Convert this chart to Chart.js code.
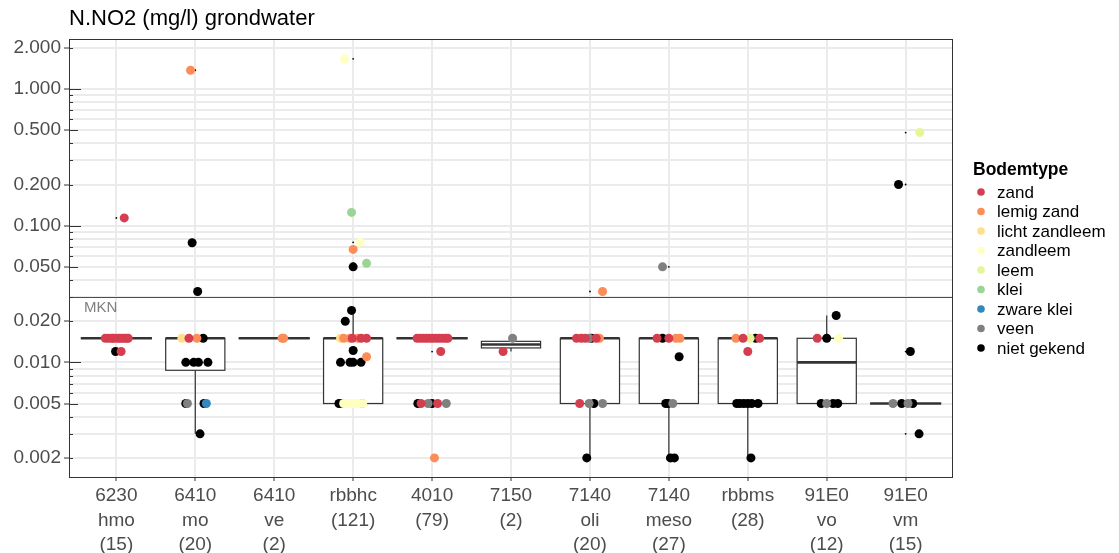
<!DOCTYPE html>
<html>
<head>
<meta charset="utf-8">
<script src="https://cdn.jsdelivr.net/npm/chart.js@4.4.0/dist/chart.umd.min.js"></script>
<style>
  html, body { margin: 0; padding: 0; background: #fff; }
  #wrap { width: 1119px; height: 553px; }
</style>
</head>
<body>
<div id="wrap"><canvas id="no2Chart" width="1119" height="553"></canvas></div>
<script>
// categorieën: habitattype + aantal metingen
const categories = [
  ['6230', 'hmo', '(15)'],
  ['6410', 'mo', '(20)'],
  ['6410', 've', '(2)'],
  ['rbbhc', '(121)'],
  ['4010', '(79)'],
  ['7150', '(2)'],
  ['7140', 'oli', '(20)'],
  ['7140', 'meso', '(27)'],
  ['rbbms', '(28)'],
  ['91E0', 'vo', '(12)'],
  ['91E0', 'vm', '(15)']
];

// boxplot-statistieken per categorie (mg/l)
const q1 = [0.015, 0.00875, 0.015, 0.005, 0.015, 0.01275, 0.005, 0.005, 0.005, 0.005, 0.005];
const median = [0.015, 0.015, 0.015, 0.015, 0.015, 0.0135, 0.015, 0.015, 0.015, 0.01, 0.005];
const q3 = [0.015, 0.015, 0.015, 0.015, 0.015, 0.01425, 0.015, 0.015, 0.015, 0.015, 0.005];
const whiskerLow = [0.015, 0.003, 0.015, 0.005, 0.015, 0.012, 0.002, 0.002, 0.002, 0.005, 0.005];
const whiskerHigh = [0.015, 0.015, 0.015, 0.024, 0.015, 0.015, 0.015, 0.015, 0.015, 0.022, 0.005];

const mkn = 0.03;
const yTickLabels = [0.002, 0.005, 0.01, 0.02, 0.05, 0.1, 0.2, 0.5, 1, 2];

// metingen per bodemtype: [categorie (1..11), waarde, jitter]
const zand = [
  [1, 0.015, -0.14], [1, 0.015, -0.10], [1, 0.015, -0.06], [1, 0.015, -0.03], [1, 0.015, 0.01],
  [1, 0.015, 0.04], [1, 0.015, 0.07], [1, 0.015, 0.10], [1, 0.015, 0.13], [1, 0.015, 0.15],
  [1, 0.012, 0.06], [1, 0.114, 0.10],
  [2, 0.015, -0.08],
  [4, 0.015, -0.01], [4, 0.015, 0.10], [4, 0.015, 0.17],
  [5, 0.015, -0.19], [5, 0.015, -0.15], [5, 0.015, -0.11], [5, 0.015, -0.07], [5, 0.015, -0.03],
  [5, 0.015, 0.01], [5, 0.015, 0.05], [5, 0.015, 0.09], [5, 0.015, 0.13], [5, 0.015, 0.17],
  [5, 0.015, 0.20], [5, 0.012, 0.11], [5, 0.005, -0.14], [5, 0.005, 0.07],
  [6, 0.012, -0.10],
  [7, 0.015, -0.17], [7, 0.015, -0.11], [7, 0.015, -0.06], [7, 0.015, 0.08], [7, 0.005, -0.13],
  [8, 0.015, -0.15], [8, 0.015, 0.0],
  [9, 0.015, -0.06], [9, 0.015, 0.15], [9, 0.012, 0.0],
  [10, 0.015, -0.12]
];
const lemigZand = [
  [1, 0.015, -0.05],
  [2, 0.015, 0.02], [2, 1.37, -0.06],
  [3, 0.015, 0.10], [3, 0.015, 0.12],
  [4, 0.015, -0.12], [4, 0.015, -0.04], [4, 0.015, 0.06], [4, 0.011, 0.17], [4, 0.067, 0.0],
  [5, 0.002, 0.03],
  [7, 0.015, 0.12], [7, 0.033, 0.16],
  [8, 0.015, 0.09], [8, 0.015, 0.14],
  [9, 0.015, -0.15]
];
const lichtZandleem = [
  [2, 0.015, -0.17],
  [4, 0.015, -0.16]
];
const zandleem = [
  [4, 0.005, -0.12], [4, 0.005, -0.08], [4, 0.005, -0.04], [4, 0.005, 0.0], [4, 0.005, 0.04],
  [4, 0.005, 0.08], [4, 0.005, 0.12], [4, 1.66, -0.11], [4, 0.0755, 0.09],
  [10, 0.015, 0.15]
];
const leem = [
  [9, 0.015, 0.03],
  [11, 0.48, 0.18]
];
const klei = [
  [4, 0.125, -0.02], [4, 0.053, 0.17]
];
const zwareKlei = [
  [2, 0.005, 0.14]
];
const veen = [
  [2, 0.005, -0.10],
  [5, 0.005, -0.05], [5, 0.005, 0.18],
  [6, 0.015, 0.02],
  [7, 0.015, -0.01], [7, 0.005, -0.01], [7, 0.005, 0.16],
  [8, 0.05, -0.08], [8, 0.005, 0.05],
  [10, 0.005, 0.0],
  [11, 0.005, -0.16], [11, 0.005, 0.03]
];
const nietGekend = [
  [1, 0.012, -0.01],
  [2, 0.015, 0.10], [2, 0.01, -0.12], [2, 0.01, -0.02], [2, 0.01, 0.04], [2, 0.01, 0.16],
  [2, 0.005, -0.12], [2, 0.005, 0.11], [2, 0.003, 0.06], [2, 0.075, -0.04], [2, 0.033, 0.03],
  [4, 0.024, -0.02], [4, 0.020, -0.10], [4, 0.0122, 0.0], [4, 0.01, -0.16], [4, 0.01, -0.04],
  [4, 0.01, 0.0], [4, 0.01, 0.10], [4, 0.005, -0.18], [4, 0.005, -0.14], [4, 0.005, 0.11], [4, 0.05, 0.0],
  [5, 0.005, -0.18], [5, 0.005, 0.0],
  [7, 0.015, 0.02], [7, 0.005, 0.05], [7, 0.002, -0.04],
  [8, 0.015, -0.08], [8, 0.011, 0.13], [8, 0.005, -0.04], [8, 0.005, -0.01], [8, 0.002, 0.02], [8, 0.002, 0.07],
  [9, 0.015, 0.10], [9, 0.005, -0.14], [9, 0.005, -0.10], [9, 0.005, -0.05], [9, 0.005, 0.0],
  [9, 0.005, 0.05], [9, 0.005, 0.13], [9, 0.002, 0.04],
  [10, 0.015, 0.0], [10, 0.022, 0.12], [10, 0.005, -0.07], [10, 0.005, 0.08], [10, 0.005, 0.14],
  [11, 0.2, -0.09], [11, 0.012, 0.06], [11, 0.005, -0.05], [11, 0.005, 0.09], [11, 0.003, 0.17]
];

const bodemtypes = [
  { label: 'zand', data: zand, color: '#D53E4F' },
  { label: 'lemig zand', data: lemigZand, color: '#FC8D59' },
  { label: 'licht zandleem', data: lichtZandleem, color: '#FEE08B' },
  { label: 'zandleem', data: zandleem, color: '#FFFFBF' },
  { label: 'leem', data: leem, color: '#E6F598' },
  { label: 'klei', data: klei, color: '#99D594' },
  { label: 'zware klei', data: zwareKlei, color: '#3288BD' },
  { label: 'veen', data: veen, color: '#808080' },
  { label: 'niet gekend', data: nietGekend, color: '#000000' }
];

const FONT = '"Liberation Sans", Arial, sans-serif';

// rasterlijnen op 1..9 x 10^k
const gridValues = [];
for (let k = -3; k <= 0; k++) {
  for (let n = 1; n <= 9; n++) {
    const v = Number((n * Math.pow(10, k)).toPrecision(3));
    if (v > 0.00145 && v < 2.32) gridValues.push(v);
  }
}
const isLabelled = v => yTickLabels.some(t => Math.abs(t - v) / t < 1e-6);

// boxplots + MKN-lijn onder de punten
const boxPlugin = {
  id: 'boxplots',
  beforeDatasetsDraw(chart) {
    const { ctx, chartArea, scales: { x, y } } = chart;
    ctx.save();
    const yM = Math.round(y.getPixelForValue(mkn)) + 0.5;
    ctx.strokeStyle = '#4d4d4d';
    ctx.lineWidth = 1;
    ctx.beginPath();
    ctx.moveTo(chartArea.left, yM);
    ctx.lineTo(chartArea.right, yM);
    ctx.stroke();
    ctx.fillStyle = '#808080';
    ctx.font = '15px ' + FONT;
    ctx.textAlign = 'left';
    ctx.textBaseline = 'alphabetic';
    ctx.fillText('MKN', chartArea.left + 15, yM + 14);

    categories.forEach((cat, i) => {
      const c = i + 1;
      const half = q1[i] === q3[i] ? 0.45 : 0.375;
      const xl = x.getPixelForValue(c - half);
      const xr = x.getPixelForValue(c + half);
      const xc = x.getPixelForValue(c);
      const yq1 = y.getPixelForValue(q1[i]);
      const yq3 = y.getPixelForValue(q3[i]);
      ctx.strokeStyle = '#333333';
      ctx.lineWidth = 1.2;
      ctx.beginPath();
      ctx.moveTo(xc, yq3);
      ctx.lineTo(xc, y.getPixelForValue(whiskerHigh[i]));
      ctx.moveTo(xc, yq1);
      ctx.lineTo(xc, y.getPixelForValue(whiskerLow[i]));
      ctx.stroke();
      ctx.fillStyle = '#ffffff';
      ctx.fillRect(xl, yq3, xr - xl, yq1 - yq3);
      ctx.strokeRect(xl, yq3, xr - xl, yq1 - yq3);
      ctx.lineWidth = 2.6;
      const ym = y.getPixelForValue(median[i]);
      ctx.beginPath();
      ctx.moveTo(xl, ym);
      ctx.lineTo(xr, ym);
      ctx.stroke();
    });

    // uitschieters van de boxplot als kleine stip
    ctx.fillStyle = '#000000';
    bodemtypes.forEach(b => b.data.forEach(([c, v]) => {
      if (v > whiskerHigh[c - 1] * 1.0001 || v < whiskerLow[c - 1] * 0.9999) {
        ctx.beginPath();
        ctx.arc(x.getPixelForValue(c), y.getPixelForValue(v), 0.9, 0, Math.PI * 2);
        ctx.fill();
      }
    }));
    ctx.restore();
  },
  afterDraw(chart) {
    const { ctx, chartArea, scales: { y } } = chart;
    ctx.save();
    // log-ticks aan de binnenkant van de y-as
    ctx.strokeStyle = '#333333';
    ctx.lineWidth = 1;
    gridValues.forEach(v => {
      const n = Math.round(v / Math.pow(10, Math.floor(Math.log10(v) + 1e-9)));
      const len = n === 1 ? 12 : (n === 5 ? 9 : 4);
      const py = Math.round(y.getPixelForValue(v)) + 0.5;
      ctx.beginPath();
      ctx.moveTo(chartArea.left, py);
      ctx.lineTo(chartArea.left + len, py);
      ctx.stroke();
    });
    // paneelrand
    ctx.strokeStyle = '#333333';
    ctx.strokeRect(chartArea.left + 0.5, chartArea.top + 0.5,
      chartArea.right - chartArea.left - 1, chartArea.bottom - chartArea.top);

    // titel
    ctx.fillStyle = '#000000';
    ctx.font = '22px ' + FONT;
    ctx.textAlign = 'left';
    ctx.textBaseline = 'middle';
    ctx.fillText('N.NO2 (mg/l) grondwater', chartArea.left, 19);

    // legende
    ctx.font = 'bold 17.5px ' + FONT;
    ctx.fillText('Bodemtype', 973, 170);
    ctx.font = '17px ' + FONT;
    bodemtypes.forEach((b, i) => {
      const ly = 192 + i * 19.5;
      ctx.fillStyle = b.color;
      ctx.beginPath();
      ctx.arc(981, ly, 3.8, 0, Math.PI * 2);
      ctx.fill();
      ctx.fillStyle = '#000000';
      ctx.fillText(b.label, 997, ly + 1);
    });
    ctx.restore();
  }
};

// eerste dataset wordt bovenop getekend
const datasets = bodemtypes.map(b => ({
  label: b.label,
  data: b.data.map(([c, v, dx]) => ({ x: c + dx, y: v })),
  backgroundColor: b.color,
  borderColor: b.color,
  borderWidth: 0,
  pointRadius: 4.5
}));

new Chart(document.getElementById('no2Chart'), {
  type: 'scatter',
  data: { datasets },
  options: {
    responsive: false,
    devicePixelRatio: 1,
    animation: false,
    events: [],
    layout: { padding: { top: 39, right: 166, bottom: 0, left: 0 } },
    plugins: { legend: { display: false }, tooltip: { enabled: false } },
    scales: {
      x: {
        type: 'linear',
        min: 0.4,
        max: 11.6,
        afterBuildTicks: s => { s.ticks = categories.map((c, i) => ({ value: i + 1 })); },
        afterFit: s => { s.height = 76; },
        grid: { color: '#EBEBEB', lineWidth: 2, tickColor: '#333333', tickLength: 4, tickWidth: 1 },
        border: { display: false },
        ticks: {
          autoSkip: false,
          maxRotation: 0,
          padding: 2,
          color: '#4D4D4D',
          font: { family: FONT, size: 19, lineHeight: 1.31 },
          callback: v => categories[Math.round(v) - 1]
        }
      },
      y: {
        type: 'logarithmic',
        min: 0.00145,
        max: 2.32,
        afterBuildTicks: s => { s.ticks = gridValues.map(v => ({ value: v })); },
        afterFit: s => { s.width = 69; },
        grid: {
          color: '#EBEBEB',
          lineWidth: 2,
          tickLength: 5,
          tickWidth: 1,
          tickColor: ctx => (ctx.tick && isLabelled(ctx.tick.value)) ? '#333333' : 'rgba(0,0,0,0)'
        },
        border: { display: false },
        ticks: {
          autoSkip: false,
          padding: 3,
          color: '#4D4D4D',
          font: { family: FONT, size: 19 },
          callback: v => isLabelled(v) ? v.toFixed(3) : ''
        }
      }
    }
  },
  plugins: [boxPlugin]
});
</script>
</body>
</html>
